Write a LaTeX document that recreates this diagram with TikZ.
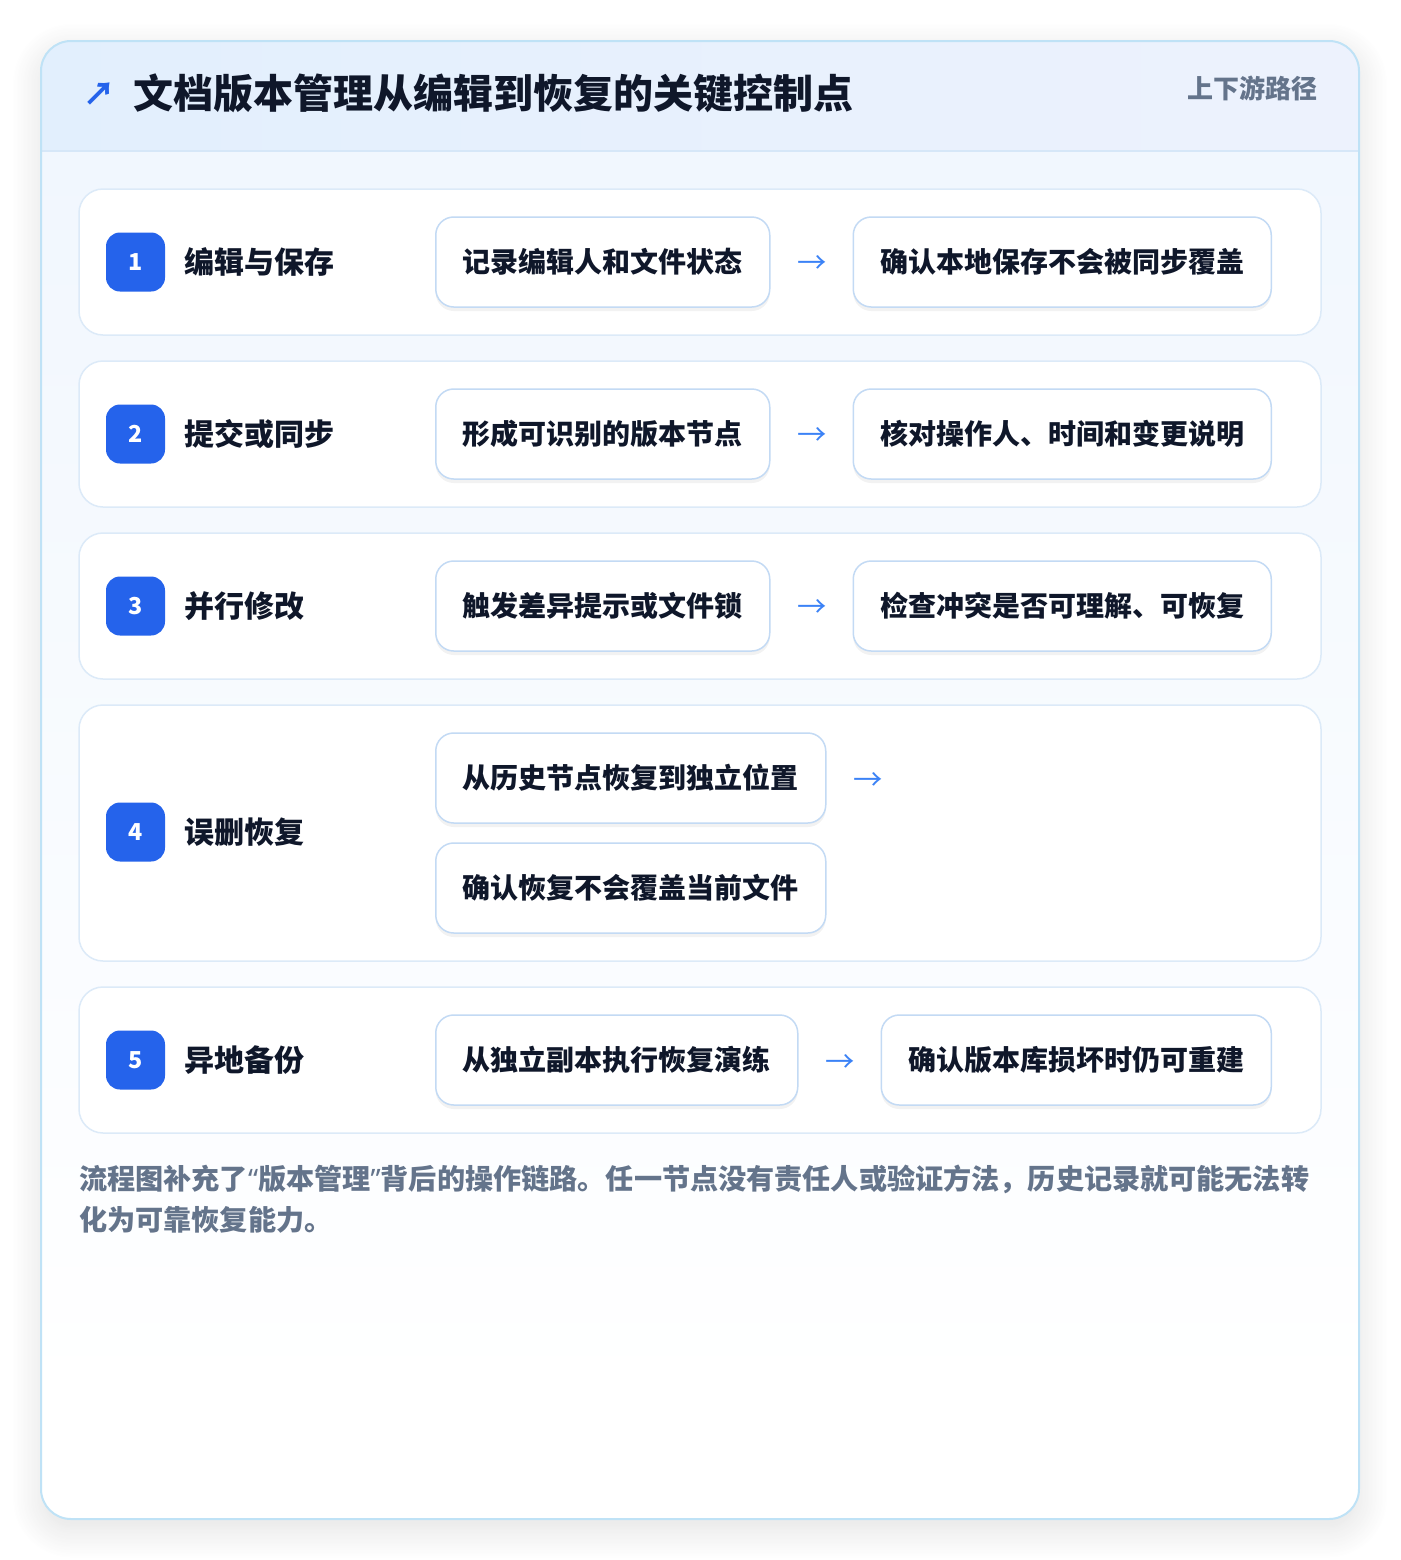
\documentclass[tikz,border=0pt]{standalone}
\usepackage{fontspec}
\setmainfont{Noto Sans CJK SC}
\newfontfamily\quotefont{Noto Sans}
\usetikzlibrary{%
    positioning,%
    shadows,%
    shadows.blur%
}
\definecolor{cardline}{HTML}{BFE2F6}
\definecolor{headleft}{HTML}{E2EFFD}
\definecolor{headright}{HTML}{EDF2FD}
\definecolor{headline}{HTML}{D6E7F8}
\definecolor{bodytop}{HTML}{F1F7FE}
\definecolor{rowline}{HTML}{DCEAF8}
\definecolor{boxline}{HTML}{C3DAF4}
\definecolor{badgeblue}{HTML}{2563EB}
\definecolor{inkdark}{HTML}{0F172A}
\definecolor{inkgray}{HTML}{64748B}
\definecolor{arrowblue}{HTML}{3B82F6}
\newcommand{\pxu}{0.75pt}
\tikzset{
    rowcard/.style={draw=rowline, fill=white, line width=1.5*\pxu, rounded corners=24*\pxu,
        minimum width=1242*\pxu, minimum height=146*\pxu},
    badge/.style={fill=badgeblue, rounded corners=14*\pxu, minimum size=59*\pxu, inner sep=0pt,
        text=white, font=\bfseries\fontsize{17.5}{19}\selectfont},
    steplabel/.style={inner sep=0pt, text=inkdark, font=\bfseries\fontsize{22.5}{26}\selectfont},
    actbox/.style={draw=boxline, fill=white, line width=1.5*\pxu, rounded corners=18*\pxu,
        minimum height=90*\pxu, inner xsep=27*\pxu, inner ysep=0pt, text=inkdark,
        font=\bfseries\fontsize{21}{24}\selectfont,
        drop shadow={shadow xshift=0pt, shadow yshift=-3pt, fill=black, opacity=0.05}},
    flowarrow/.style={inner sep=0pt, minimum width=82*\pxu, text=arrowblue,
        font=\fontsize{22}{24}\selectfont, yshift=-3*\pxu}
}

\begin{document}
\begin{tikzpicture}[x=\pxu, y=-\pxu]
    \useasboundingbox (0,0) rectangle (1400,1560);
    % outer card with shadow
    \fill[white, rounded corners=30*\pxu,
        blur shadow={shadow xshift=0pt, shadow yshift=-8pt, shadow blur radius=22pt,
            shadow blur steps=24, shadow opacity=12}]
        (41,41) rectangle (1359,1519);
    \begin{scope}
        \clip[rounded corners=30*\pxu] (41,41) rectangle (1359,1519);
        \fill[top color=bodytop, bottom color=white] (41,151) rectangle (1359,1400);
        \fill[left color=headleft, right color=headright] (41,41) rectangle (1359,151);
        \draw[headline, line width=1.5*\pxu] (41,151) -- (1359,151);
    \end{scope}
    \draw[cardline, line width=2*\pxu, rounded corners=30*\pxu] (41,41) rectangle (1359,1519);

    % header
    \node[anchor=west, inner sep=0pt, text=badgeblue, font=\bfseries\fontsize{24}{26}\selectfont] (icon) at (83,94) {↗};
    \node[anchor=west, inner sep=0pt, text=inkdark, font=\bfseries\fontsize{30}{34}\selectfont] (title) at (133,93) {文档版本管理从编辑到恢复的关键控制点};
    \node[anchor=east, inner sep=0pt, text=inkgray, font=\bfseries\fontsize{19.5}{22}\selectfont] (tag) at (1318,88) {上下游路径};

    % step 1
    \node[rowcard] (r1) at (700,262) {};
    \node[badge] (b1) at (135.5,262) {1};
    \node[steplabel, right=19*\pxu of b1] (l1) {编辑与保存};
    \node[actbox, anchor=west] (a1) at (435,262) {记录编辑人和文件状态};
    \node[flowarrow, right=0pt of a1] (f1) {→};
    \node[actbox, right=82*\pxu of a1] (c1) {确认本地保存不会被同步覆盖};

    % step 2
    \node[rowcard] (r2) at (700,434) {};
    \node[badge] (b2) at (135.5,434) {2};
    \node[steplabel, right=19*\pxu of b2] (l2) {提交或同步};
    \node[actbox, anchor=west] (a2) at (435,434) {形成可识别的版本节点};
    \node[flowarrow, right=0pt of a2] (f2) {→};
    \node[actbox, right=82*\pxu of a2] (c2) {核对操作人、时间和变更说明};

    % step 3
    \node[rowcard] (r3) at (700,606) {};
    \node[badge] (b3) at (135.5,606) {3};
    \node[steplabel, right=19*\pxu of b3] (l3) {并行修改};
    \node[actbox, anchor=west] (a3) at (435,606) {触发差异提示或文件锁};
    \node[flowarrow, right=0pt of a3] (f3) {→};
    \node[actbox, right=82*\pxu of a3] (c3) {检查冲突是否可理解、可恢复};

    % step 4
    \node[rowcard, minimum height=256*\pxu] (r4) at (700,833) {};
    \node[badge] (b4) at (135.5,832) {4};
    \node[steplabel, right=19*\pxu of b4] (l4) {误删恢复};
    \node[actbox, anchor=west] (a4) at (435,778) {从历史节点恢复到独立位置};
    \node[flowarrow, right=0pt of a4] (f4) {→};
    \node[actbox, anchor=west] (c4) at (435,888) {确认恢复不会覆盖当前文件};

    % step 5
    \node[rowcard] (r5) at (700,1060) {};
    \node[badge] (b5) at (135.5,1060) {5};
    \node[steplabel, right=19*\pxu of b5] (l5) {异地备份};
    \node[actbox, anchor=west] (a5) at (435,1060) {从独立副本执行恢复演练};
    \node[flowarrow, right=0pt of a5] (f5) {→};
    \node[actbox, right=82*\pxu of a5] (c5) {确认版本库损坏时仍可重建};

    % note
    \node[anchor=north west, inner sep=0pt, align=left, text=inkgray,
        font=\bfseries\fontsize{21.1}{30.75}\selectfont] (note) at (79,1165)
        {流程图补充了{\quotefont “}版本管理{\quotefont ”}背后的操作链路。任一节点没有责任人或验证方法，历史记录就可能无法转\\化为可靠恢复能力。};
\end{tikzpicture}
\end{document}
